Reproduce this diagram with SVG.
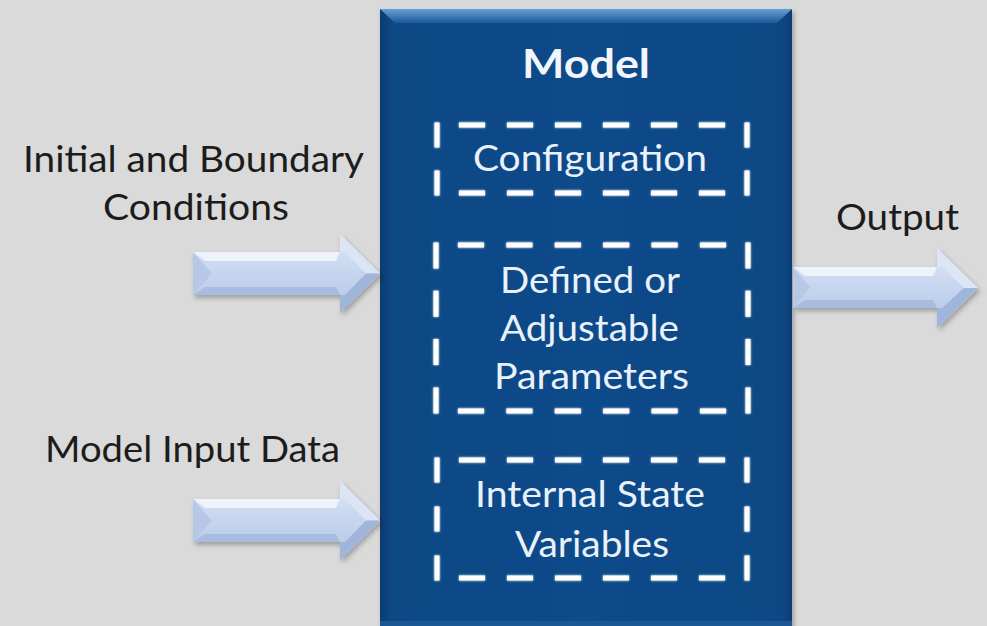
<svg xmlns="http://www.w3.org/2000/svg" width="987" height="626" viewBox="0 0 987 626">
  <defs>
    <style>
      .label { font-family: Lato, "Open Sans", "Liberation Sans", sans-serif; font-size: 37px; fill: #1c1c1c; }
      .inner { font-family: Lato, "Open Sans", "Liberation Sans", sans-serif; font-size: 37px; fill: #eaf1fb; }
      .title { font-family: Lato, "Open Sans", "Liberation Sans", sans-serif; font-size: 40px; font-weight: bold; fill: #f2f6fc; }
      .edge { fill: none; stroke: #ffffff; stroke-width: 5; stroke-linecap: butt; }
      .shaft { fill: url(#shaftFill); }
      .facet-top { fill: #eef3fb; }
      .facet-bottom { fill: #a8bce0; }
      .facet-left { fill: #b7c8e6; }
      .head-top { fill: #dbe5f5; }
      .head-bottom { fill: #9fb5dc; }
    </style>
    <linearGradient id="shaftFill" x1="0" y1="0" x2="0" y2="1">
      <stop offset="0" stop-color="#dce6f6"/>
      <stop offset="0.5" stop-color="#c6d5ef"/>
      <stop offset="1" stop-color="#b3c6e6"/>
    </linearGradient>
    <linearGradient id="boxFill" x1="0" y1="0" x2="1" y2="0">
      <stop offset="0" stop-color="#083b70"/>
      <stop offset="0.025" stop-color="#0b4784"/>
      <stop offset="0.5" stop-color="#0d4b8a"/>
      <stop offset="0.975" stop-color="#0b4784"/>
      <stop offset="1" stop-color="#083d74"/>
    </linearGradient>
    <linearGradient id="bevelTop" x1="0" y1="0" x2="0" y2="1">
      <stop offset="0" stop-color="#6a9fd6"/>
      <stop offset="1" stop-color="#1a5899"/>
    </linearGradient>
    <filter id="shadow" x="-10%" y="-10%" width="120%" height="130%">
      <feDropShadow dx="2" dy="3" stdDeviation="2.5" flood-color="#000000" flood-opacity="0.28"/>
    </filter>
    <filter id="glow" x="-5%" y="-5%" width="110%" height="110%">
      <feGaussianBlur in="SourceGraphic" stdDeviation="1.2" result="b"/>
      <feMerge><feMergeNode in="b"/><feMergeNode in="SourceGraphic"/></feMerge>
    </filter>
  </defs>

  <!-- page -->
  <rect x="0" y="0" width="987" height="626" fill="#dadada"/>

  <!-- central model block -->
  <g id="model">
    <rect x="380" y="9" width="412" height="620" fill="url(#boxFill)" filter="url(#shadow)"/>
    <polygon points="380,9 792,9 777,23 395,23" fill="url(#bevelTop)"/>
    <rect x="380" y="621" width="412" height="5" fill="#1a5695"/>
    <text class="title" x="522" y="78" textLength="128" lengthAdjust="spacingAndGlyphs">Model</text>
  </g>

  <!-- dashed frames: sides drawn separately so each side starts and ends cleanly -->
  <g id="configuration">
    <g filter="url(#glow)">
      <line class="edge" x1="437" y1="122.5" x2="437" y2="195.5" stroke-dasharray="25 23"/>
      <line class="edge" x1="747" y1="122.5" x2="747" y2="195.5" stroke-dasharray="25 23"/>
      <line class="edge" x1="459" y1="125" x2="725" y2="125" stroke-dasharray="26 22"/>
      <line class="edge" x1="459" y1="193" x2="725" y2="193" stroke-dasharray="26 22"/>
    </g>
    <text class="inner" x="473" y="171" textLength="234" lengthAdjust="spacingAndGlyphs">Configuration</text>
  </g>

  <g id="parameters">
    <g filter="url(#glow)">
      <line class="edge" x1="436" y1="242.5" x2="436" y2="413.5" stroke-dasharray="26 22.3"/>
      <line class="edge" x1="748" y1="242.5" x2="748" y2="413.5" stroke-dasharray="26 22.3"/>
      <line class="edge" x1="458" y1="245" x2="726" y2="245" stroke-dasharray="26 22.4"/>
      <line class="edge" x1="458" y1="411" x2="726" y2="411" stroke-dasharray="26 22.4"/>
    </g>
    <text class="inner" x="500" y="293" textLength="180" lengthAdjust="spacingAndGlyphs">Defined or</text>
    <text class="inner" x="500" y="341" textLength="179" lengthAdjust="spacingAndGlyphs">Adjustable</text>
    <text class="inner" x="494" y="389" textLength="195" lengthAdjust="spacingAndGlyphs">Parameters</text>
  </g>

  <g id="state">
    <g filter="url(#glow)">
      <line class="edge" x1="437" y1="457.5" x2="437" y2="580.5" stroke-dasharray="25 24"/>
      <line class="edge" x1="747" y1="457.5" x2="747" y2="580.5" stroke-dasharray="25 24"/>
      <line class="edge" x1="459" y1="460" x2="725" y2="460" stroke-dasharray="26 22"/>
      <line class="edge" x1="459" y1="578" x2="725" y2="578" stroke-dasharray="26 22"/>
    </g>
    <text class="inner" x="475" y="507" textLength="230" lengthAdjust="spacingAndGlyphs">Internal State</text>
    <text class="inner" x="515" y="557" textLength="154" lengthAdjust="spacingAndGlyphs">Variables</text>
  </g>

  <!-- external labels -->
  <g id="boundary-label">
    <text class="label" x="23" y="172" textLength="341" lengthAdjust="spacingAndGlyphs">Initial and Boundary</text>
    <text class="label" x="103" y="220" textLength="186" lengthAdjust="spacingAndGlyphs">Conditions</text>
  </g>
  <g id="input-label">
    <text class="label" x="45" y="462" textLength="295" lengthAdjust="spacingAndGlyphs">Model Input Data</text>
  </g>
  <g id="output-label">
    <text class="label" x="836" y="230" textLength="123" lengthAdjust="spacingAndGlyphs">Output</text>
  </g>

  <!-- block arrows -->
  <g id="connectors">
    <g id="arrow-boundary" filter="url(#shadow)">
      <polygon class="shaft" points="193,252 340,252 340,234 380,273.5 340,313 340,295 193,295"/>
      <polygon class="facet-top" points="193,252 340,252 336,261 205,261"/>
      <polygon class="facet-bottom" points="193,295 340,295 336,287 205,287"/>
      <polygon class="facet-left" points="193,252 212,273.5 193,295"/>
      <polygon class="head-top" points="340,234 380,273.5 366,273.5 345,252 340,252"/>
      <polygon class="head-bottom" points="340,313 380,273.5 366,273.5 345,295 340,295"/>
    </g>
    <g id="arrow-input" filter="url(#shadow)">
      <polygon class="shaft" points="193,499 340,499 340,481 380,520.5 340,560 340,542 193,542"/>
      <polygon class="facet-top" points="193,499 340,499 336,508 205,508"/>
      <polygon class="facet-bottom" points="193,542 340,542 336,534 205,534"/>
      <polygon class="facet-left" points="193,499 212,520.5 193,542"/>
      <polygon class="head-top" points="340,481 380,520.5 366,520.5 345,499 340,499"/>
      <polygon class="head-bottom" points="340,560 380,520.5 366,520.5 345,542 340,542"/>
    </g>
    <g id="arrow-output" filter="url(#shadow)">
      <polygon class="shaft" points="793,267 937,267 937,248 978,288 937,328 937,308 793,308"/>
      <polygon class="facet-top" points="793,267 937,267 933,276 805,276"/>
      <polygon class="facet-bottom" points="793,308 937,308 933,300 805,300"/>
      <polygon class="facet-left" points="793,267 810,287.5 793,308"/>
      <polygon class="head-top" points="937,248 978,288 964,288 942,267 937,267"/>
      <polygon class="head-bottom" points="937,328 978,288 964,288 942,308 937,308"/>
    </g>
  </g>
</svg>
